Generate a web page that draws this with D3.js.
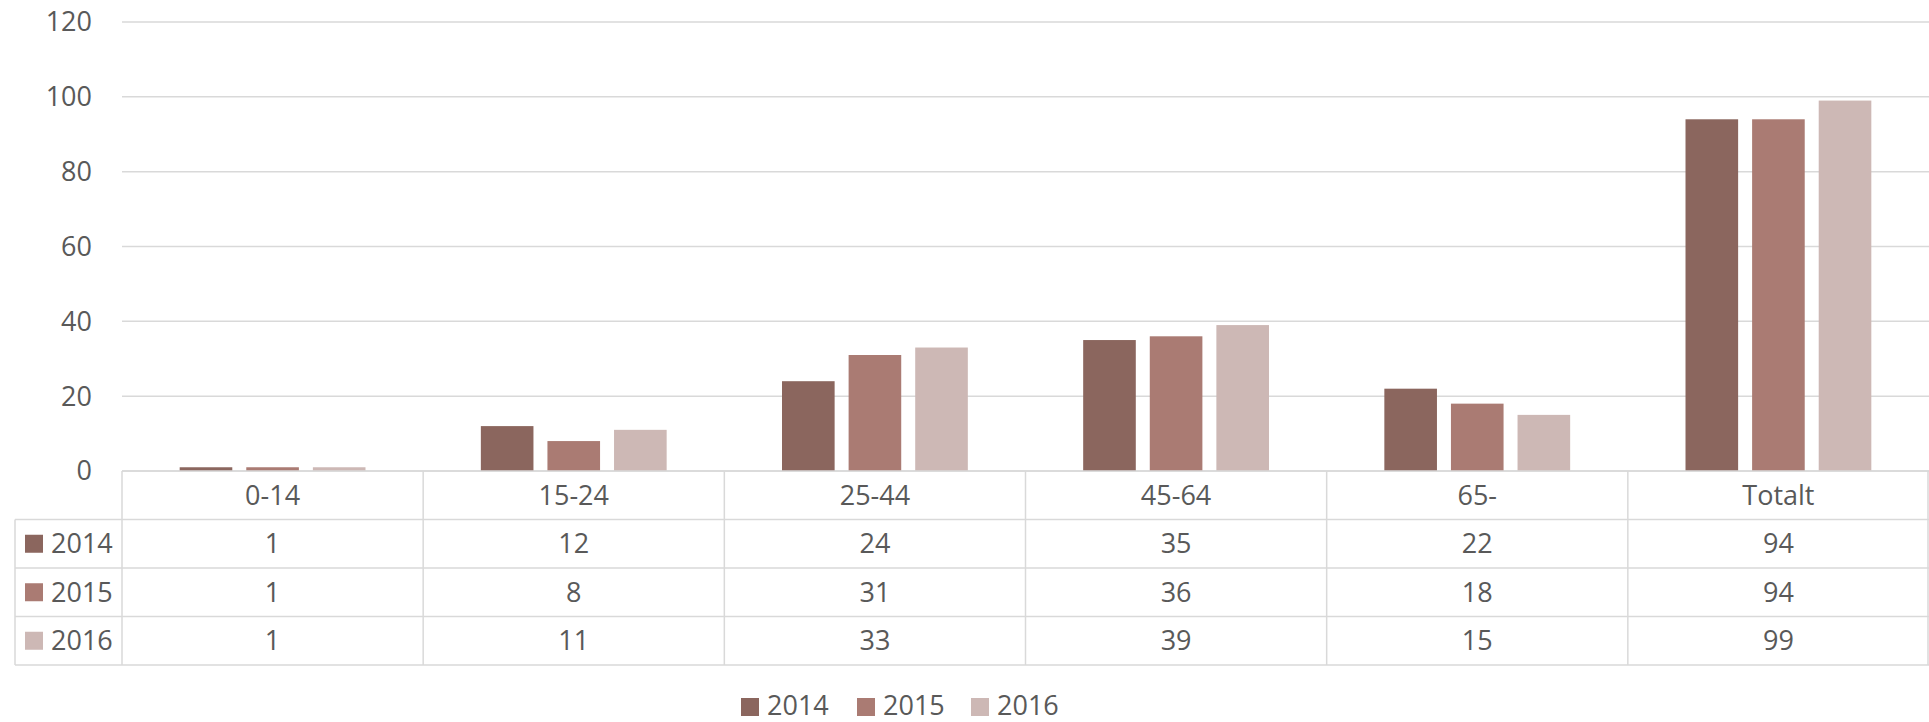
<!DOCTYPE html>
<html>
<head>
<meta charset="utf-8">
<script src="https://cdn.jsdelivr.net/npm/d3@7"></script>
<style>
  body { margin: 0; background: #fff; }
  text { font-family: "Open Sans", sans-serif; fill: #595959; }
</style>
</head>
<body>
<div id="chart"></div>
<script>
var categories = ["0-14", "15-24", "25-44", "45-64", "65-", "Totalt"];
var years = ["2014", "2015", "2016"];
var values2014 = [1, 12, 24, 35, 22, 94];
var values2015 = [1, 8, 31, 36, 18, 94];
var values2016 = [1, 11, 33, 39, 15, 99];
var yTicks = [0, 20, 40, 60, 80, 100, 120];
var colors = ["#8B665E", "#AA7B73", "#CDB8B5"];

var seriesValues = [values2014, values2015, values2016];

var width = 1929, height = 722;
var margin = { top: 22, left: 122, right: 0 };
var plotBottom = 471;
var rowH = 48.5;
var fontSize = 27;
var gridColor = "#D9D9D9";

var svg = d3.select("#chart").append("svg")
  .attr("width", width).attr("height", height);

var x0 = d3.scaleBand().domain(categories)
  .range([margin.left, width - margin.right]);
var x1 = d3.scaleBand().domain(years)
  .range([0, x0.bandwidth()])
  .paddingInner(0.21).paddingOuter(0.866);
var y = d3.scaleLinear().domain([0, 120]).range([plotBottom, margin.top]);
var z = d3.scaleOrdinal().domain(years).range(colors);

// gridlines + y labels
var gy = svg.append("g").attr("class", "y-axis");
gy.selectAll("line").data(yTicks).enter().append("line")
  .attr("x1", margin.left).attr("x2", width)
  .attr("y1", function (d) { return y(d); })
  .attr("y2", function (d) { return y(d); })
  .attr("stroke", gridColor).attr("stroke-width", 1.5);
gy.selectAll("text").data(yTicks).enter().append("text")
  .attr("x", 92).attr("y", function (d) { return y(d); })
  .attr("dy", "0.35em").attr("text-anchor", "end")
  .style("font-size", fontSize + "px")
  .text(function (d) { return d; });

// bars
var bars = svg.append("g");
years.forEach(function (yr, i) {
  bars.selectAll(".bar" + yr).data(seriesValues[i]).enter().append("rect")
    .attr("class", "bar" + yr)
    .attr("x", function (d, j) { return x0(categories[j]) + x1(yr); })
    .attr("y", function (d) { return y(d); })
    .attr("width", x1.bandwidth())
    .attr("height", function (d) { return y(0) - y(d); })
    .attr("fill", z(yr));
});

// data table
var tbl = svg.append("g");
var tableTop = plotBottom;
var tableBottom = tableTop + rowH * 4;
var legendLeft = 15;

// horizontal lines
for (var r = 0; r <= 4; r++) {
  tbl.append("line")
    .attr("x1", r === 0 ? margin.left : legendLeft).attr("x2", width)
    .attr("y1", tableTop + r * rowH).attr("y2", tableTop + r * rowH)
    .attr("stroke", gridColor).attr("stroke-width", 1.5);
}
// vertical lines
categories.forEach(function (c) {
  tbl.append("line")
    .attr("x1", x0(c)).attr("x2", x0(c))
    .attr("y1", tableTop).attr("y2", tableBottom)
    .attr("stroke", gridColor).attr("stroke-width", 1.5);
});
tbl.append("line")
  .attr("x1", width - 1).attr("x2", width - 1)
  .attr("y1", tableTop).attr("y2", tableBottom)
  .attr("stroke", gridColor).attr("stroke-width", 1.5);
tbl.append("line")
  .attr("x1", legendLeft).attr("x2", legendLeft)
  .attr("y1", tableTop + rowH).attr("y2", tableBottom)
  .attr("stroke", gridColor).attr("stroke-width", 1.5);

// header labels
tbl.selectAll(".cat").data(categories).enter().append("text")
  .attr("x", function (d) { return x0(d) + x0.bandwidth() / 2; })
  .attr("y", tableTop + rowH / 2)
  .attr("dy", "0.35em").attr("text-anchor", "middle")
  .style("font-size", fontSize + "px")
  .text(function (d) { return d; });

// rows
years.forEach(function (yr, i) {
  var cy = tableTop + rowH * (i + 1) + rowH / 2;
  tbl.append("rect")
    .attr("x", 25).attr("y", cy - 9).attr("width", 18).attr("height", 18)
    .attr("fill", z(yr));
  tbl.append("text")
    .attr("x", 51).attr("y", cy).attr("dy", "0.35em")
    .style("font-size", fontSize + "px")
    .text(yr);
  tbl.selectAll(".v" + yr).data(seriesValues[i]).enter().append("text")
    .attr("x", function (d, j) { return x0(categories[j]) + x0.bandwidth() / 2; })
    .attr("y", cy).attr("dy", "0.35em").attr("text-anchor", "middle")
    .style("font-size", fontSize + "px")
    .text(function (d) { return d; });
});

// bottom legend
var legendX = [741, 857, 971];
var legend = svg.append("g").selectAll("g").data(years).enter().append("g")
  .attr("transform", function (d, i) { return "translate(" + legendX[i] + ",706)"; });
legend.append("rect").attr("x", 0).attr("y", -8).attr("width", 18).attr("height", 18)
  .attr("fill", z);
legend.append("text").attr("x", 26).attr("y", 0).attr("dy", "0.35em")
  .style("font-size", fontSize + "px")
  .text(function (d) { return d; });
</script>
</body>
</html>
